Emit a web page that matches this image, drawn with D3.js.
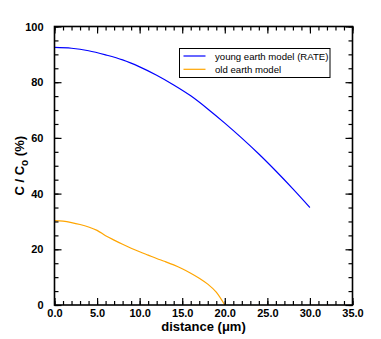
<!DOCTYPE html>
<html><head><meta charset="utf-8">
<script src="https://cdn.jsdelivr.net/npm/d3@7"></script>
<style>body{margin:0;background:#fff}svg{display:block}text{font-family:"Liberation Sans",Arial,sans-serif}</style>
</head><body>
<svg id="c" width="381" height="339"></svg>
<script>
const youngX = [0,2,4,6,8,10,12,14,16,18,20,22,24,26,28,30];
const youngY = [92.5,92.2,91.3,89.8,88.0,85.5,82.5,79.0,75.1,70.4,65.3,59.9,54.2,48.1,41.7,35.0];
const oldX = [0,1,2,3,4,5,6,7,8,9,10,11,12,13,14,15,16,17,18,19,20];
const oldY = [30.3,30.1,29.6,28.9,28.0,26.8,24.9,23.3,21.8,20.4,19.1,17.9,16.7,15.6,14.4,13.0,11.4,9.6,7.5,4.6,0];
const xTicks = [0,5,10,15,20,25,30,35];
const yTicks = [0,20,40,60,80,100];
const seriesNames = ["young earth model (RATE)","old earth model"];
const colors = ["#0000ff","#ffa500"];

const svg = d3.select("#c");
const L=54.5, R=352.5, T=26.5, B=305;
const x = d3.scaleLinear().domain([0,35]).range([L,R]);
const y = d3.scaleLinear().domain([0,100]).range([B,T]);

const line = d3.line().x(d=>x(d[0])).y(d=>y(d[1])).curve(d3.curveMonotoneX);
svg.append("path").datum(d3.zip(oldX,oldY)).attr("d",line).attr("fill","none").attr("stroke",colors[1]).attr("stroke-width",1.2);
svg.append("path").datum(d3.zip(youngX,youngY)).attr("d",line).attr("fill","none").attr("stroke",colors[0]).attr("stroke-width",1.2);

function ax(gen, tr){ return svg.append("g").attr("transform",tr).call(gen); }
const xMinor = d3.range(0,35.01,1), yMinor = d3.range(0,100.01,5);
// minor ticks
ax(d3.axisBottom(x).tickValues(xMinor).tickSize(-4).tickFormat(""),`translate(0,${B})`);
ax(d3.axisTop(x).tickValues(xMinor).tickSize(-4).tickFormat(""),`translate(0,${T})`);
ax(d3.axisLeft(y).tickValues(yMinor).tickSize(-4).tickFormat(""),`translate(${L},0)`);
ax(d3.axisRight(y).tickValues(yMinor).tickSize(-4).tickFormat(""),`translate(${R},0)`);
// major ticks
const gx = ax(d3.axisBottom(x).tickValues(xTicks).tickSize(-7).tickPadding(7).tickFormat(d3.format(".1f")),`translate(0,${B})`);
ax(d3.axisTop(x).tickValues(xTicks).tickSize(-7).tickFormat(""),`translate(0,${T})`);
const gy = ax(d3.axisLeft(y).tickValues(yTicks).tickSize(-7).tickPadding(11).tickFormat(d3.format("d")),`translate(${L},0)`);
ax(d3.axisRight(y).tickValues(yTicks).tickSize(-7).tickFormat(""),`translate(${R},0)`);
svg.selectAll(".domain").remove();
svg.selectAll(".tick line").attr("stroke","#000").attr("stroke-width",1.2);
svg.selectAll(".tick text").attr("font-family","Liberation Sans, Arial, sans-serif").attr("font-size",11).attr("font-weight","bold").attr("fill","#000");
gx.selectAll(".tick text").attr("dy","0.45em");
svg.append("rect").attr("x",L).attr("y",T).attr("width",R-L).attr("height",B-T).attr("fill","none").attr("stroke","#000").attr("stroke-width",1.6);

// axis titles
svg.append("text").attr("x",(L+R)/2).attr("y",331).attr("text-anchor","middle").attr("font-size",13).attr("font-weight","bold")
  .text("distance  (μm)");
const yt = svg.append("text").attr("transform",`translate(24,${(T+B)/2}) rotate(-90)`).attr("text-anchor","middle").attr("font-size",13).attr("font-weight","bold");
yt.append("tspan").text("C / C");
yt.append("tspan").attr("font-size",10).attr("dy",4).text("o");
yt.append("tspan").attr("dy",-4).text(" (%)");

// legend
svg.append("rect").attr("x",179.5).attr("y",48.5).attr("width",150.5).attr("height",29).attr("fill","#fff").attr("stroke","#000").attr("stroke-width",1);
seriesNames.forEach((n,i)=>{
  const yy = 56 + i*13.3;
  svg.append("line").attr("x1",183.5).attr("x2",205.5).attr("y1",yy).attr("y2",yy).attr("stroke",colors[i]).attr("stroke-width",1.2);
  svg.append("text").attr("x",215).attr("y",yy+3.5).attr("font-size",9.6).text(n);
});
</script>
</body></html>
